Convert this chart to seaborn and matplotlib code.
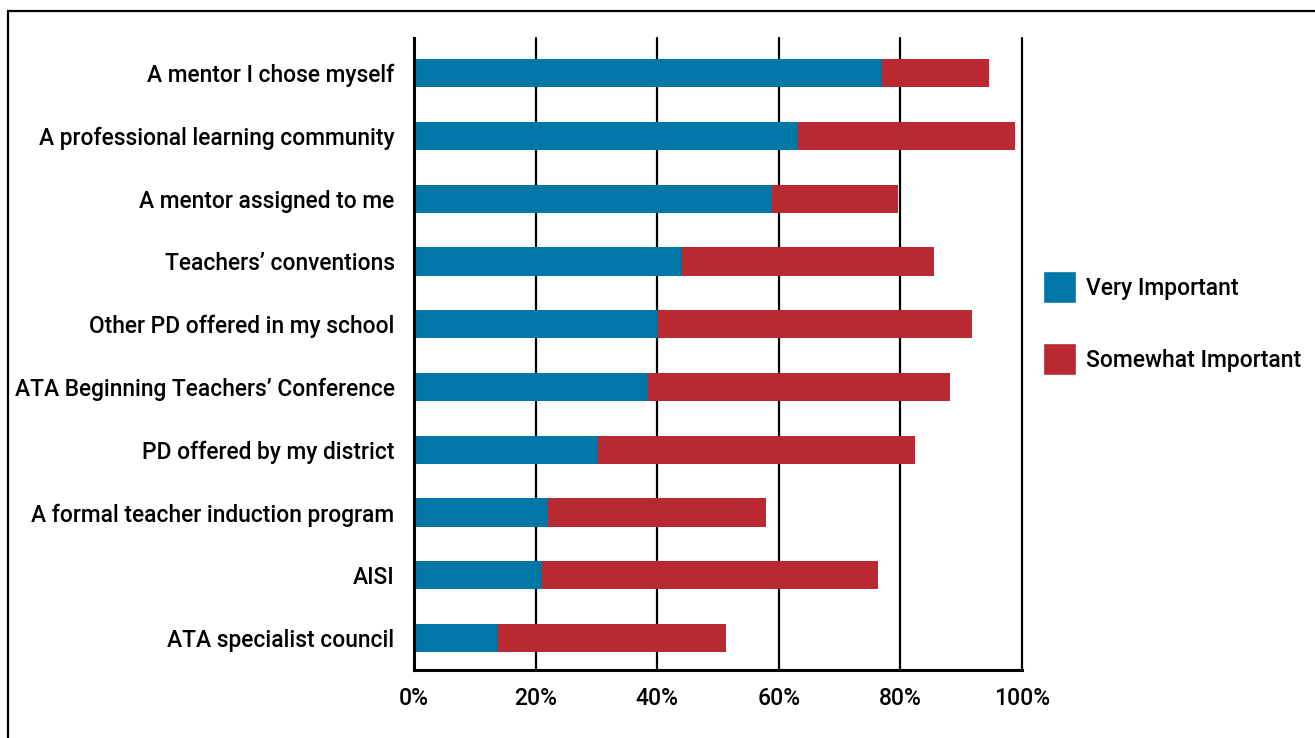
import pandas as pd
import matplotlib.pyplot as plt
import seaborn as sns
import numpy as np
from matplotlib.patches import Rectangle, Patch

# dati (percentuali)
categories = [
    "A mentor I chose myself",
    "A professional learning community",
    "A mentor assigned to me",
    "Teachers\u2019 conventions",
    "Other PD offered in my school",
    "ATA Beginning Teachers\u2019 Conference",
    "PD offered by my district",
    "A formal teacher induction program",
    "AISI",
    "ATA specialist council",
]
very_important = [76.8, 63.0, 58.9, 43.9, 40.0, 38.3, 30.1, 22.0, 20.9, 13.7]
somewhat_important = [17.8, 35.8, 20.7, 41.6, 51.8, 49.9, 52.3, 35.9, 55.4, 37.6]
x_ticks = [0, 20, 40, 60, 80, 100]

blue = "#0077a7"
red = "#b82931"

sns.set_theme(style="white")
plt.rcParams['font.family'] = ['Roboto', 'DejaVu Sans']
plt.rcParams['font.weight'] = 'medium'
plt.rcParams['text.color'] = 'black'
plt.rcParams['xtick.color'] = 'black'
plt.rcParams['ytick.color'] = 'black'

df = pd.DataFrame({
    "cat": categories,
    "very": very_important,
    "total": np.array(very_important) + np.array(somewhat_important),
})

fig = plt.figure(figsize=(13.15, 7.38), dpi=100, facecolor="white")
ax = fig.add_axes([414 / 1315, 1 - 670 / 738, 608 / 1315, 632 / 738])

sns.barplot(data=df, x="total", y="cat", color=red, orient="h", width=0.45,
            saturation=1, linewidth=0, ax=ax, zorder=3)
sns.barplot(data=df, x="very", y="cat", color=blue, orient="h", width=0.45,
            saturation=1, linewidth=0, ax=ax, zorder=3)

ax.set_xlim(0, 100)
ax.set_ylim(len(categories) - 0.49, -0.56)
ax.set_xticks(x_ticks)
ax.set_xticklabels([f"{t}%" for t in x_ticks], fontsize=16.5)
ax.tick_params(axis="y", length=0, pad=14, labelsize=16.4)
ax.tick_params(axis="x", length=0, pad=12)
ax.set_xlabel("")
ax.set_ylabel("")

for t in x_ticks[1:]:
    ax.axvline(t, color="black", lw=1.6, zorder=1, clip_on=False)

for s in ["top", "right"]:
    ax.spines[s].set_visible(False)
ax.spines["left"].set_color("black")
ax.spines["left"].set_linewidth(2.2)
ax.spines["bottom"].set_color("black")
ax.spines["bottom"].set_linewidth(2.2)
ax.spines["left"].set_zorder(4)

handles = [Patch(facecolor=blue, label="Very Important"),
           Patch(facecolor=red, label="Somewhat Important")]
fig.legend(handles=handles, loc="upper left",
           bbox_to_anchor=(1032 / 1315, 1 - 260 / 738), frameon=False,
           fontsize=16.5, handlelength=1.4, handleheight=1.75,
           labelspacing=1.75, handletextpad=0.45, borderpad=0)

# cornice nera
fig.patches.append(Rectangle((8 / 1315, -0.2), 1.2, 1.2 - 11 / 738,
                             transform=fig.transFigure, fill=False,
                             edgecolor="black", lw=1.6))

fig.savefig("out.png", dpi=100, facecolor="white")
